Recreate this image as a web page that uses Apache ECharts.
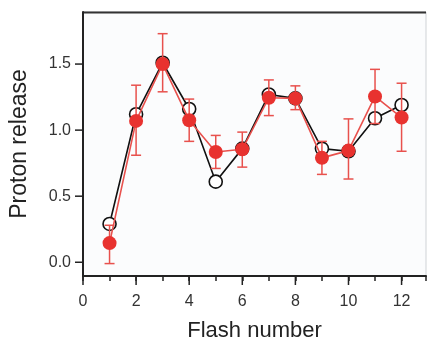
<!DOCTYPE html>
<html><head><meta charset="utf-8">
<script src="https://cdn.jsdelivr.net/npm/echarts@6/dist/echarts.min.js"></script>
<style>html,body{margin:0;padding:0;background:#fff}#c{width:427px;height:339px}</style>
</head><body><div id="c"></div>
<script>
var flashes = [1,2,3,4,5,6,7,8,9,10,11,12];
var openValues = [0.29,1.12,1.51,1.16,0.61,0.86,1.27,1.24,0.86,0.84,1.09,1.19];
var filledValues = [0.145,1.07,1.50,1.075,0.835,0.855,1.245,1.24,0.79,0.845,1.255,1.095];
var errLow = [-0.01,0.81,1.29,0.915,0.71,0.72,1.11,1.155,0.665,0.63,1.05,0.84];
var errHigh = [0.28,1.34,1.73,1.235,0.96,0.985,1.38,1.335,0.915,1.085,1.46,1.355];
var xTicks = [0,2,4,6,8,10,12];
var yTicks = [0.0,0.5,1.0,1.5];

var red = '#e8322f';
var font = 'Liberation Sans, Arial, sans-serif';
var chart = echarts.init(document.getElementById('c'), null, {renderer:'canvas'});
var errData = flashes.map(function(f,i){return [f, errLow[i], errHigh[i]];});
chart.setOption({
  animation:false,
  backgroundColor:'#fff',
  grid:{left:83, top:12, right:1, bottom:63, containLabel:false, outerBoundsMode:'none',
    show:true, backgroundColor:'#fbfcfd', borderColor:'#cfd3d6', borderWidth:1},
  graphic:[{type:'line', shape:{x1:83,y1:12.5,x2:426,y2:12.5}, style:{stroke:'#333',lineWidth:2}}],
  xAxis:{type:'value', min:0, max:12.92, interval:1,
    name:'Flash number', nameLocation:'middle', nameGap:44,
    nameTextStyle:{fontFamily:font, fontSize:22, color:'#222'},
    axisLine:{onZero:false, lineStyle:{color:'#222', width:2}},
    axisTick:{show:true, length:5, lineStyle:{color:'#222', width:1.5}},
    minorTick:{show:false},
    splitLine:{show:false},
    axisLabel:{margin:18, fontFamily:font, fontSize:16, color:'#333',
      formatter:function(v){return xTicks.indexOf(v)>=0? String(v):'';}}
  },
  yAxis:{type:'value', min:-0.104, max:1.894, interval:0.5,
    name:'Proton release', nameLocation:'middle', nameGap:52,
    nameTextStyle:{fontFamily:font, fontSize:23, color:'#222'},
    axisLine:{onZero:false, lineStyle:{color:'#222', width:2}},
    axisTick:{show:false},
    splitLine:{show:false},
    axisLabel:{show:false}
  },
  series:[
    {type:'custom', name:'yticks', silent:true, z:1,
      data:yTicks.map(function(v){return [0,v];}),
      renderItem:function(params, api){
        var p = api.coord([0, api.value(1)]);
        return {type:'group', children:[
          {type:'line', shape:{x1:p[0]-8,y1:p[1],x2:p[0],y2:p[1]}, style:{stroke:'#222',lineWidth:1.5}},
          {type:'text', x:p[0]-12, y:p[1], style:{text:api.value(1).toFixed(1), fontFamily:font, fontSize:16, fill:'#333', textAlign:'right', textVerticalAlign:'middle'}}
        ]};
      }
    },
    {type:'custom', name:'xmajor', silent:true, z:1,
      data:xTicks.map(function(v){return [v,0];}),
      renderItem:function(params, api){
        var p = api.coord([api.value(0), -0.104]);
        return {type:'line', shape:{x1:p[0],y1:p[1],x2:p[0],y2:p[1]+9}, style:{stroke:'#222',lineWidth:1.5}};
      }
    },
    {type:'line', name:'open', data:flashes.map(function(f,i){return [f, openValues[i]];}),
      symbol:'circle', symbolSize:13, z:3,
      lineStyle:{color:'#111', width:1.6},
      itemStyle:{color:'#fff', borderColor:'#111', borderWidth:1.6}},
    {type:'custom', name:'err', z:4, data:errData,
      renderItem:function(params, api){
        var x = api.value(0);
        var lo = api.coord([x, api.value(1)]);
        var hi = api.coord([x, api.value(2)]);
        var w = 5;
        var st = {stroke:'#e8514d', lineWidth:1.5};
        return {type:'group', children:[
          {type:'line', shape:{x1:lo[0],y1:lo[1],x2:hi[0],y2:hi[1]}, style:st},
          {type:'line', shape:{x1:lo[0]-w,y1:lo[1],x2:lo[0]+w,y2:lo[1]}, style:st},
          {type:'line', shape:{x1:hi[0]-w,y1:hi[1],x2:hi[0]+w,y2:hi[1]}, style:st}
        ]};
      }
    },
    {type:'line', name:'filled', data:flashes.map(function(f,i){return [f, filledValues[i]];}),
      symbol:'circle', symbolSize:14, z:5,
      lineStyle:{color:'#e8514d', width:1.6},
      itemStyle:{color:red, borderColor:red, borderWidth:0}}
  ]
});
</script></body></html>
